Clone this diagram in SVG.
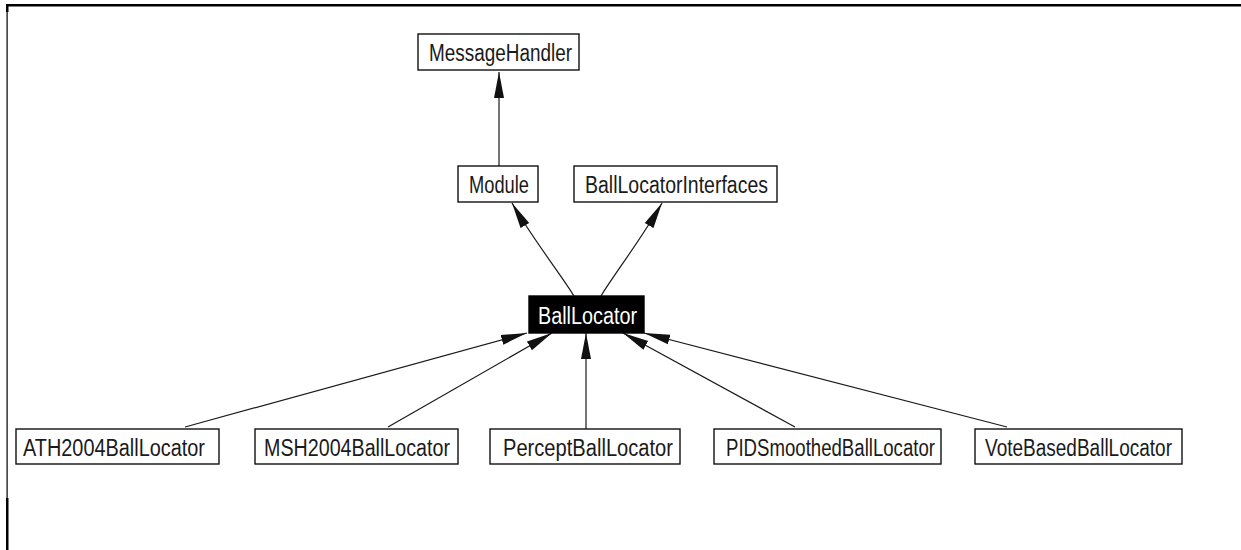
<svg xmlns="http://www.w3.org/2000/svg" width="1241" height="550" viewBox="0 0 1241 550">
  <style>
    .box { fill: #ffffff; stroke: #111111; stroke-width: 1.4; }
    .box-sel { fill: #000000; stroke: #000000; stroke-width: 1.4; }
    .lbl { font-family: "Liberation Sans", Arial, sans-serif; font-size: 23px; fill: #1a1a1a; }
    .lbl-sel { font-family: "Liberation Sans", Arial, sans-serif; font-size: 23px; fill: #ffffff; }
    .edge { fill: none; stroke: #1a1a1a; stroke-width: 1.2; marker-end: url(#tri); }
    .frame { fill: #000000; }
  </style>
  <defs>
    <marker id="tri" viewBox="0 0 26 12" refX="26" refY="6" markerWidth="26" markerHeight="12" markerUnits="userSpaceOnUse" orient="auto">
      <path d="M0,1 L26,6 L0,11 z" fill="#111111"/>
    </marker>
  </defs>

  <rect width="1241" height="550" fill="#ffffff"/>

  <!-- page frame -->
  <g id="frame">
    <rect class="frame" x="6" y="4" width="1235" height="2.5"/>
    <rect class="frame" x="6.5" y="4" width="1.2" height="494"/>
    <rect class="frame" x="6" y="4" width="2.5" height="8"/>
    <rect class="frame" x="6" y="498" width="2.5" height="52"/>
  </g>

  <!-- inheritance connectors -->
  <g id="connectors">
    <path class="edge" d="M499,166 L499,72"/>
    <path class="edge" d="M574,296 C562,276 532,238 512,203"/>
    <path class="edge" d="M601,296 C613,276 642,238 662,203"/>
    <path class="edge" d="M185,427 L527,333"/>
    <path class="edge" d="M388,427 L552,333"/>
    <path class="edge" d="M586,429 L586,333"/>
    <path class="edge" d="M795,427 L623,333"/>
    <path class="edge" d="M1007,427 L644,333"/>
  </g>

  <g id="node-MessageHandler">
    <rect class="box" x="418" y="34" width="161" height="36"/>
    <text class="lbl" x="429" y="61" textLength="143" lengthAdjust="spacingAndGlyphs">MessageHandler</text>
  </g>

  <g id="node-Module">
    <rect class="box" x="458" y="166" width="80" height="36"/>
    <text class="lbl" x="469" y="193" textLength="60" lengthAdjust="spacingAndGlyphs">Module</text>
  </g>

  <g id="node-BallLocatorInterfaces">
    <rect class="box" x="574" y="166" width="203" height="36"/>
    <text class="lbl" x="585" y="193" textLength="183" lengthAdjust="spacingAndGlyphs">BallLocatorInterfaces</text>
  </g>

  <g id="node-BallLocator">
    <rect class="box-sel" x="529" y="296" width="115" height="37"/>
    <text class="lbl-sel" x="538" y="324" textLength="99" lengthAdjust="spacingAndGlyphs">BallLocator</text>
  </g>

  <g id="node-ATH2004BallLocator">
    <rect class="box" x="16" y="429" width="203" height="35"/>
    <text class="lbl" x="23" y="456" textLength="182" lengthAdjust="spacingAndGlyphs">ATH2004BallLocator</text>
  </g>

  <g id="node-MSH2004BallLocator">
    <rect class="box" x="255" y="429" width="203" height="35"/>
    <text class="lbl" x="264" y="456" textLength="186" lengthAdjust="spacingAndGlyphs">MSH2004BallLocator</text>
  </g>

  <g id="node-PerceptBallLocator">
    <rect class="box" x="490" y="429" width="190" height="35"/>
    <text class="lbl" x="503" y="456" textLength="170" lengthAdjust="spacingAndGlyphs">PerceptBallLocator</text>
  </g>

  <g id="node-PIDSmoothedBallLocator">
    <rect class="box" x="714" y="429" width="227" height="35"/>
    <text class="lbl" x="726" y="456" textLength="209" lengthAdjust="spacingAndGlyphs">PIDSmoothedBallLocator</text>
  </g>

  <g id="node-VoteBasedBallLocator">
    <rect class="box" x="975" y="429" width="207" height="35"/>
    <text class="lbl" x="985" y="456" textLength="187" lengthAdjust="spacingAndGlyphs">VoteBasedBallLocator</text>
  </g>
</svg>
